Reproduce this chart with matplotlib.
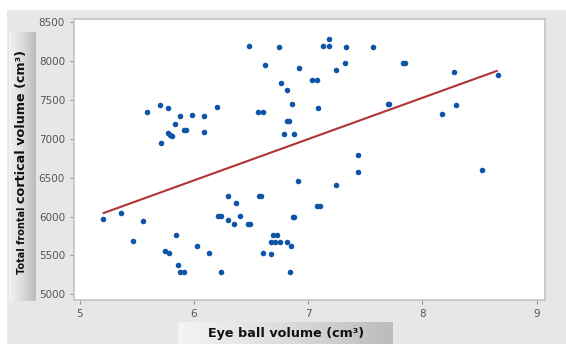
import numpy as np
import matplotlib
matplotlib.use("Agg")
import matplotlib.pyplot as plt

# valores
eye_volume = [5.20, 5.36, 5.47, 5.55, 5.59, 5.70, 5.71, 5.745, 5.77, 5.77,
              5.79, 5.81, 5.78, 5.83, 5.84, 5.86, 5.88, 5.88, 5.91, 5.91,
              5.93, 5.98, 6.03, 6.09, 6.09, 6.13, 6.20, 6.21, 6.24, 6.24,
              6.30, 6.30, 6.35, 6.37, 6.40, 6.48, 6.475, 6.49, 6.56, 6.60,
              6.57, 6.59, 6.60, 6.62, 6.67, 6.67, 6.71, 6.75, 6.81, 6.69,
              6.73, 6.74, 6.76, 6.79, 6.81, 6.81, 6.83, 6.84, 6.85, 6.86,
              6.87, 6.88, 6.88, 6.91, 6.92, 7.03, 7.08, 7.08, 7.10, 7.09,
              7.13, 7.18, 7.18, 7.24, 7.24, 7.32, 7.33, 7.44, 7.44, 7.57,
              7.70, 7.71, 7.83, 7.85, 8.17, 8.28, 8.29, 8.52, 8.66]
frontal_volume = [5970, 6050, 5686, 5940, 7350, 7432, 6950, 5560, 7400, 7076,
                  7054, 7041, 5528, 7192, 5759, 5375, 7291, 5283, 5283, 7118,
                  7118, 7311, 5618, 7291, 7089, 5528, 7404, 6001, 6001, 5287,
                  6261, 5950, 5907, 6172, 6001, 8199, 5908, 5908, 7342, 7342,
                  6265, 6265, 5529, 7955, 5516, 5671, 5676, 5676, 5669, 5759,
                  5759, 8179, 7725, 7059, 7625, 7230, 7230, 5284, 5618, 7443,
                  5999, 5999, 7059, 6456, 7916, 7754, 7754, 6140, 6140, 7402,
                  8199, 8199, 8290, 6403, 7887, 7977, 8179, 6789, 6574, 8179,
                  7453, 7453, 7979, 7979, 7323, 7857, 7432, 6600, 7826]

# reta de ajuste (extremos)
fit_x = [5.21, 8.65]
fit_y = [6046, 7874]

x_ticks = [5, 6, 7, 8, 9]
y_ticks = [5000, 5500, 6000, 6500, 7000, 7500, 8000, 8500]

fig = plt.figure(figsize=(5.66, 3.44), dpi=100, facecolor='white')

# fundo cinza do painel
fundo = fig.add_axes([7/566, 0, 1 - 7/566, 1 - 10/344])
fundo.set_facecolor('#e7e7e7')
fundo.set_xticks([])
fundo.set_yticks([])
for s in fundo.spines.values():
    s.set_visible(False)
fundo.set_zorder(0)

cmap_caixa = matplotlib.colors.LinearSegmentedColormap.from_list(
    'g', ['#f4f4f4', '#dcdcdc', '#bcbcbc'])

# caixas com degradê para os rótulos
def caixa(rect):
    a = fig.add_axes(rect)
    grad = np.linspace(0, 1, 256).reshape(1, -1)
    a.imshow(grad, cmap=cmap_caixa, aspect='auto', extent=[0, 1, 0, 1])
    a.set_xticks([])
    a.set_yticks([])
    for s in a.spines.values():
        s.set_visible(False)
    a.set_zorder(1)
    return a

caixa([9/566, 43/344, 27/566, 269/344])
caixa([178/566, 0, 215/566, 22/344])

ax = fig.add_axes([74/566, 44.3/344, 470.7/566, 280.4/344])
ax.set_zorder(2)
ax.set_facecolor('white')

ax.scatter(eye_volume, frontal_volume, s=16, color='#0d55a6', zorder=3,
           linewidths=0)
ax.plot(fit_x, fit_y, color='#b03434', linewidth=1.5, zorder=2)

ax.set_xlim(4.95, 9.07)
ax.set_ylim(4930, 8539)
ax.set_xticks(x_ticks)
ax.set_yticks(y_ticks)
ax.tick_params(axis='both', labelsize=7.5, labelcolor='#555555',
               color='#999999', length=3, width=0.8)
for s in ax.spines.values():
    s.set_color('#c4c4c4')
    s.set_linewidth(1.2)

fig.text(286/566, 11/344, 'Eye ball volume (cm³)', ha='center', va='center',
         fontsize=9.2, weight='bold', color='#111111', zorder=5)
fig.text(22/566, (344 - 274)/344, 'Total frontal', ha='center', va='bottom',
         rotation=90, fontsize=7, weight='bold', color='#111111', zorder=5)
fig.text(22/566, (344 - 203)/344, 'cortical volume (cm³)', ha='center',
         va='bottom', rotation=90, fontsize=9.2, weight='bold',
         color='#111111', zorder=5)

plt.savefig('out.png', dpi=100, facecolor='white')
plt.close()
